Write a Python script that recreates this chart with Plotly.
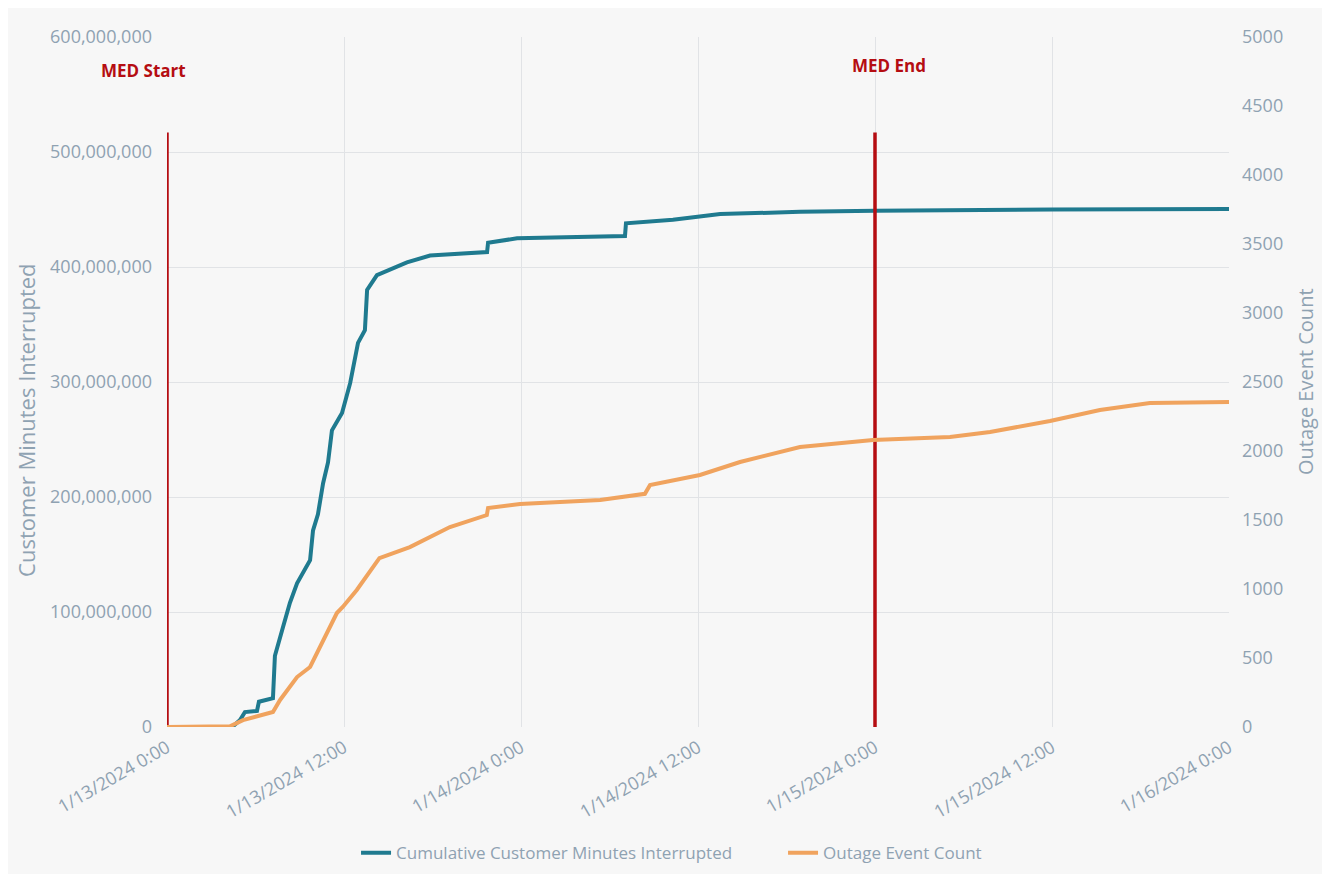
import plotly.graph_objects as go

# Cumulative Customer Minutes Interrupted (left axis)
cmi_times = ["2024-01-13 00:00", "2024-01-13 04:25", "2024-01-13 04:57", "2024-01-13 05:17",
             "2024-01-13 06:06", "2024-01-13 06:14", "2024-01-13 07:11", "2024-01-13 07:19",
             "2024-01-13 07:52", "2024-01-13 08:20", "2024-01-13 08:49", "2024-01-13 09:21",
             "2024-01-13 09:42", "2024-01-13 09:54", "2024-01-13 10:14", "2024-01-13 10:35",
             "2024-01-13 10:55", "2024-01-13 11:11", "2024-01-13 11:52", "2024-01-13 12:25",
             "2024-01-13 12:57", "2024-01-13 13:25", "2024-01-13 13:34", "2024-01-13 14:14",
             "2024-01-13 15:19", "2024-01-13 16:16", "2024-01-13 17:50", "2024-01-13 21:42",
             "2024-01-13 21:46", "2024-01-13 23:44", "2024-01-14 07:03", "2024-01-14 07:07",
             "2024-01-14 10:18", "2024-01-14 13:30", "2024-01-14 18:55", "2024-01-15 00:00",
             "2024-01-15 12:00", "2024-01-16 00:00"]
cmi_values = [0, 0, 6e6, 13e6, 14e6, 22e6, 25e6, 62e6, 87e6, 108e6, 125e6, 137e6,
              145e6, 171e6, 185e6, 212e6, 230e6, 258e6, 273e6, 299e6, 334e6, 345e6,
              380e6, 393e6, 399e6, 404e6, 410e6, 413e6, 421e6, 425e6, 427e6, 438e6,
              441e6, 446e6, 448e6, 449e6, 450e6, 450.5e6]

# Outage Event Count (right axis)
oec_times = ["2024-01-13 00:00", "2024-01-13 04:16", "2024-01-13 05:09", "2024-01-13 07:11",
             "2024-01-13 07:40", "2024-01-13 08:49", "2024-01-13 09:42", "2024-01-13 10:51",
             "2024-01-13 11:31", "2024-01-13 11:55", "2024-01-13 12:52", "2024-01-13 14:24",
             "2024-01-13 15:19", "2024-01-13 16:28", "2024-01-13 19:11", "2024-01-13 20:32",
             "2024-01-13 21:41", "2024-01-13 21:46", "2024-01-13 23:56", "2024-01-14 05:22",
             "2024-01-14 08:24", "2024-01-14 08:45", "2024-01-14 12:08", "2024-01-14 14:51",
             "2024-01-14 18:55", "2024-01-14 23:52", "2024-01-15 05:05", "2024-01-15 07:48",
             "2024-01-15 11:52", "2024-01-15 15:15", "2024-01-15 18:38", "2024-01-16 00:00"]
oec_values = [0, 5, 50, 109, 196, 362, 435, 681, 826, 870, 993, 1224, 1261, 1304,
              1449, 1500, 1536, 1587, 1616, 1645, 1690, 1754, 1826, 1920, 2029, 2080,
              2101, 2138, 2217, 2297, 2348, 2355]

# MED markers
med_times = ["2024-01-13 00:00", "2024-01-15 00:00"]
med_labels = ["MED Start", "MED End"]
med_top = 517e6
med_label_y = [571e6, 575e6]
med_label_shift = [-24, 14]

blue = "#1f7a8f"
orange = "#f0a35e"
red = "#b50d12"
tick_col = "#8fa2b2"
font_family = "Open Sans"

fig = go.Figure()
fig.add_trace(go.Scatter(x=cmi_times, y=cmi_values, mode="lines",
                         name="Cumulative Customer Minutes Interrupted",
                         line=dict(color=blue, width=4)))
fig.add_trace(go.Scatter(x=oec_times, y=oec_values, mode="lines",
                         name="Outage Event Count", yaxis="y2",
                         line=dict(color=orange, width=4)))
for t in med_times:
    fig.add_trace(go.Scatter(x=[t, t], y=[0, med_top], mode="lines", showlegend=False,
                             line=dict(color=red, width=3.5), hoverinfo="skip"))

for t, lab, ly, sh in zip(med_times, med_labels, med_label_y, med_label_shift):
    fig.add_annotation(x=t, y=ly, text="<b>" + lab + "</b>", showarrow=False,
                       xanchor="center", xshift=sh,
                       font=dict(color=red, size=17, family=font_family))

# axis titles
fig.add_annotation(xref="paper", yref="paper", x=-0.1328, y=0.445, text="Customer Minutes Interrupted",
                   textangle=-90, showarrow=False, xanchor="center", yanchor="middle",
                   font=dict(size=22, color=tick_col, family=font_family))
fig.add_annotation(xref="paper", yref="paper", x=1.0716, y=0.5, text="Outage Event Count",
                   textangle=-90, showarrow=False, xanchor="center", yanchor="middle",
                   font=dict(size=20, color=tick_col, family=font_family))

fig.update_layout(
    width=1314, height=866,
    paper_bgcolor="#f7f7f7", plot_bgcolor="#f7f7f7",
    margin=dict(l=159, r=93, t=29, b=147, autoexpand=False),
    font=dict(family=font_family, color=tick_col, size=17),
    xaxis=dict(range=["2024-01-13 00:00", "2024-01-16 00:00"], dtick=12 * 3600 * 1000,
               tick0="2024-01-13 00:00", tickformat="%-m/%-d/%Y %-H:%M", tickangle=-30,
               showgrid=True, gridcolor="#e1e3e6", gridwidth=1, zeroline=False,
               showline=False, ticks="", automargin=False, ticklabelstandoff=6,
               tickfont=dict(size=18, color=tick_col)),
    yaxis=dict(range=[0, 600e6], dtick=100e6, tickformat=",d", showgrid=True,
               gridcolor="#e1e3e6", zeroline=False, ticks="", automargin=False,
               ticklabelstandoff=14,
               tickfont=dict(size=18, color=tick_col)),
    yaxis2=dict(range=[0, 5000], dtick=500, overlaying="y", side="right", showgrid=False,
                zeroline=False, tickformat="d", automargin=False, ticklabelstandoff=12,
                tickfont=dict(size=18, color=tick_col)),
    legend=dict(orientation="h", x=0.178, xanchor="left", y=-0.183, yanchor="middle",
                entrywidth=382, entrywidthmode="pixels",
                font=dict(size=17, color=tick_col), bgcolor="rgba(0,0,0,0)"),
    showlegend=True,
)

fig.write_html("out.html")
